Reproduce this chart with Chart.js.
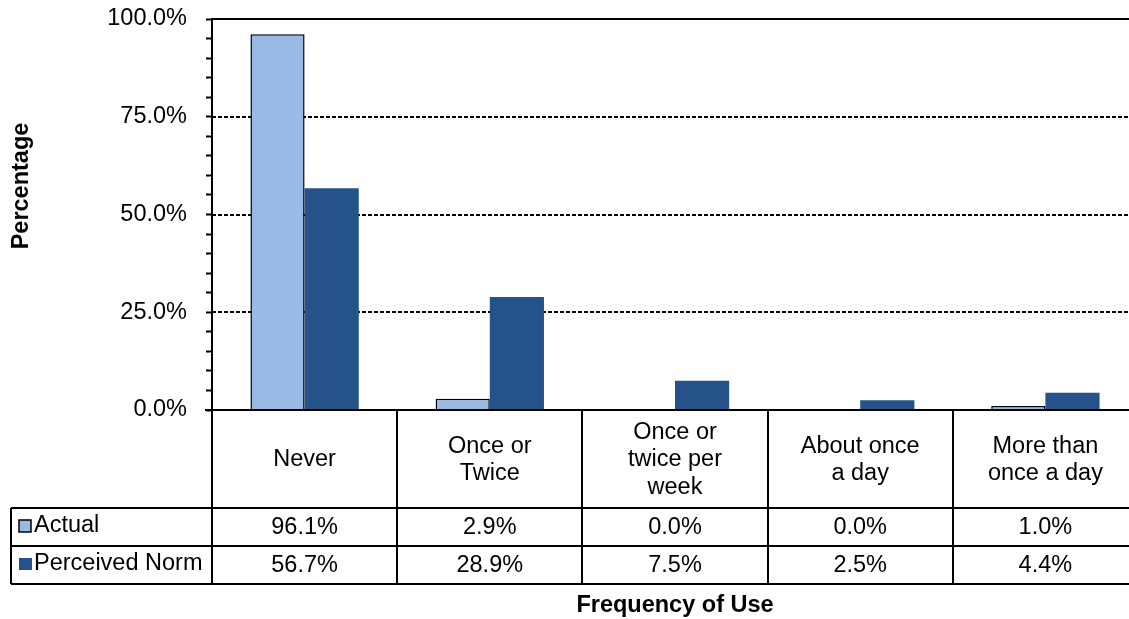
<!DOCTYPE html>
<html>
<head>
<meta charset="utf-8">
<title>Frequency of Use</title>
<script src="https://cdn.jsdelivr.net/npm/chart.js@4"></script>
<style>
  html, body { margin: 0; padding: 0; background: #fff; overflow: hidden; }
  #wrap { width: 1140px; height: 619px; }
</style>
</head>
<body>
<div id="wrap"><canvas id="useChart" width="1140" height="619"></canvas></div>
<script>
// categories (table header lines) and series values in percent
const categories = [
    ['Never'],
    ['Once or', 'Twice'],
    ['Once or', 'twice per', 'week'],
    ['About once', 'a day'],
    ['More than', 'once a day']
];
const actual = [96.1, 2.9, 0.0, 0.0, 1.0];
const perceivedNorm = [56.7, 28.9, 7.5, 2.5, 4.4];
const seriesNames = ['Actual', 'Perceived Norm'];
const yTicks = [0, 25, 50, 75, 100];

const FONT = '"Liberation Sans", Arial, sans-serif';
const lightBlue = '#99bae4';
const darkBlue = '#245289';

// grid lines behind the bars
const gridPlugin = {
    id: 'gridLines',
    beforeDatasetsDraw(chart) {
        const ctx = chart.ctx, area = chart.chartArea, y = chart.scales.y;
        ctx.save();
        ctx.strokeStyle = '#000';
        ctx.lineWidth = 2;
        yTicks.forEach(v => {
            if (v === 0) return;
            const py = Math.round(y.getPixelForValue(v));
            ctx.setLineDash(v === 100 ? [] : [4, 2]);
            ctx.beginPath();
            ctx.moveTo(area.left, py);
            ctx.lineTo(chart.width, py);
            ctx.stroke();
        });
        ctx.restore();
    }
};

// data table under the plot, axis titles
const tablePlugin = {
    id: 'dataTable',
    afterDraw(chart) {
        const ctx = chart.ctx, area = chart.chartArea, x = chart.scales.x;
        const top = area.bottom;
        const headBottom = top + 98;
        const row1 = headBottom + 38;
        const row2 = row1 + 38;
        const legendLeft = 11;
        const step = x.getPixelForValue(1) - x.getPixelForValue(0);

        ctx.save();
        ctx.strokeStyle = '#000';
        ctx.lineWidth = 2;
        ctx.beginPath();
        // horizontal lines
        ctx.moveTo(area.left - 7, top); ctx.lineTo(chart.width, top);
        [headBottom, row1, row2].forEach(yy => {
            ctx.moveTo(legendLeft, yy); ctx.lineTo(chart.width, yy);
        });
        // vertical lines
        ctx.moveTo(legendLeft, headBottom); ctx.lineTo(legendLeft, row2);
        categories.forEach((c, i) => {
            const bx = Math.round(x.getPixelForValue(i) - step / 2);
            ctx.moveTo(bx, top); ctx.lineTo(bx, row2);
        });
        ctx.stroke();

        ctx.fillStyle = '#000';
        ctx.font = '23.5px ' + FONT;
        ctx.textAlign = 'center';
        ctx.textBaseline = 'middle';
        const lh = 27.5;
        const headMid = (top + headBottom) / 2 + 1;
        categories.forEach((lines, i) => {
            const cx = x.getPixelForValue(i);
            const y0 = headMid - (lines.length - 1) * lh / 2;
            lines.forEach((t, k) => ctx.fillText(t, cx, y0 + k * lh));
            ctx.fillText(actual[i].toFixed(1) + '%', cx, (headBottom + row1) / 2 + 1);
            ctx.fillText(perceivedNorm[i].toFixed(1) + '%', cx, (row1 + row2) / 2 + 1);
        });

        // legend keys
        ctx.textAlign = 'left';
        const m1 = (headBottom + row1) / 2, m2 = (row1 + row2) / 2;
        ctx.fillStyle = lightBlue;
        ctx.fillRect(19, m1 - 7, 12, 12);
        ctx.lineWidth = 1.5;
        ctx.strokeRect(19, m1 - 7, 12, 12);
        ctx.fillStyle = darkBlue;
        ctx.fillRect(19, m2 - 7, 13, 12);
        ctx.fillStyle = '#000';
        ctx.fillText(seriesNames[0], 34, m1 - 1);
        ctx.fillText(seriesNames[1], 34, m2 - 1);

        // axis titles
        ctx.font = 'bold 23.5px ' + FONT;
        ctx.textAlign = 'center';
        ctx.fillText('Frequency of Use', (area.left + area.right) / 2, 606);
        ctx.translate(22, 186);
        ctx.rotate(-Math.PI / 2);
        ctx.fillText('Percentage', 0, 0);
        ctx.restore();
    }
};

const config = {
    type: 'bar',
    data: {
        labels: categories.map(c => c.join(' ')),
        datasets: [{
            label: seriesNames[0],
            data: actual,
            backgroundColor: lightBlue,
            borderColor: '#000',
            borderWidth: 1.5
        }, {
            label: seriesNames[1],
            data: perceivedNorm,
            backgroundColor: darkBlue,
            borderWidth: 0
        }]
    },
    options: {
        responsive: false,
        animation: false,
        layout: { padding: { top: 19, right: 2, bottom: 209, left: 0 } },
        datasets: { bar: { categoryPercentage: 0.585, barPercentage: 1 } },
        plugins: { legend: { display: false }, tooltip: { enabled: false } },
        scales: {
            x: { display: false },
            y: {
                min: 0, max: 100,
                afterFit: s => { s.width = 212; s.paddingTop = 0; s.paddingBottom = 0; },
                ticks: {
                    stepSize: 5,
                    autoSkip: false,
                    padding: 19,
                    color: '#000',
                    font: { family: FONT, size: 23.5 },
                    callback: v => yTicks.includes(v) ? v.toFixed(1) + '%' : ''
                },
                grid: { drawOnChartArea: false, tickLength: 6, tickColor: '#000', tickWidth: 2 },
                border: { color: '#000', width: 2 }
            }
        }
    },
    plugins: [gridPlugin, tablePlugin]
};

var useChart = new Chart(document.getElementById('useChart'), config);
</script>
</body>
</html>
